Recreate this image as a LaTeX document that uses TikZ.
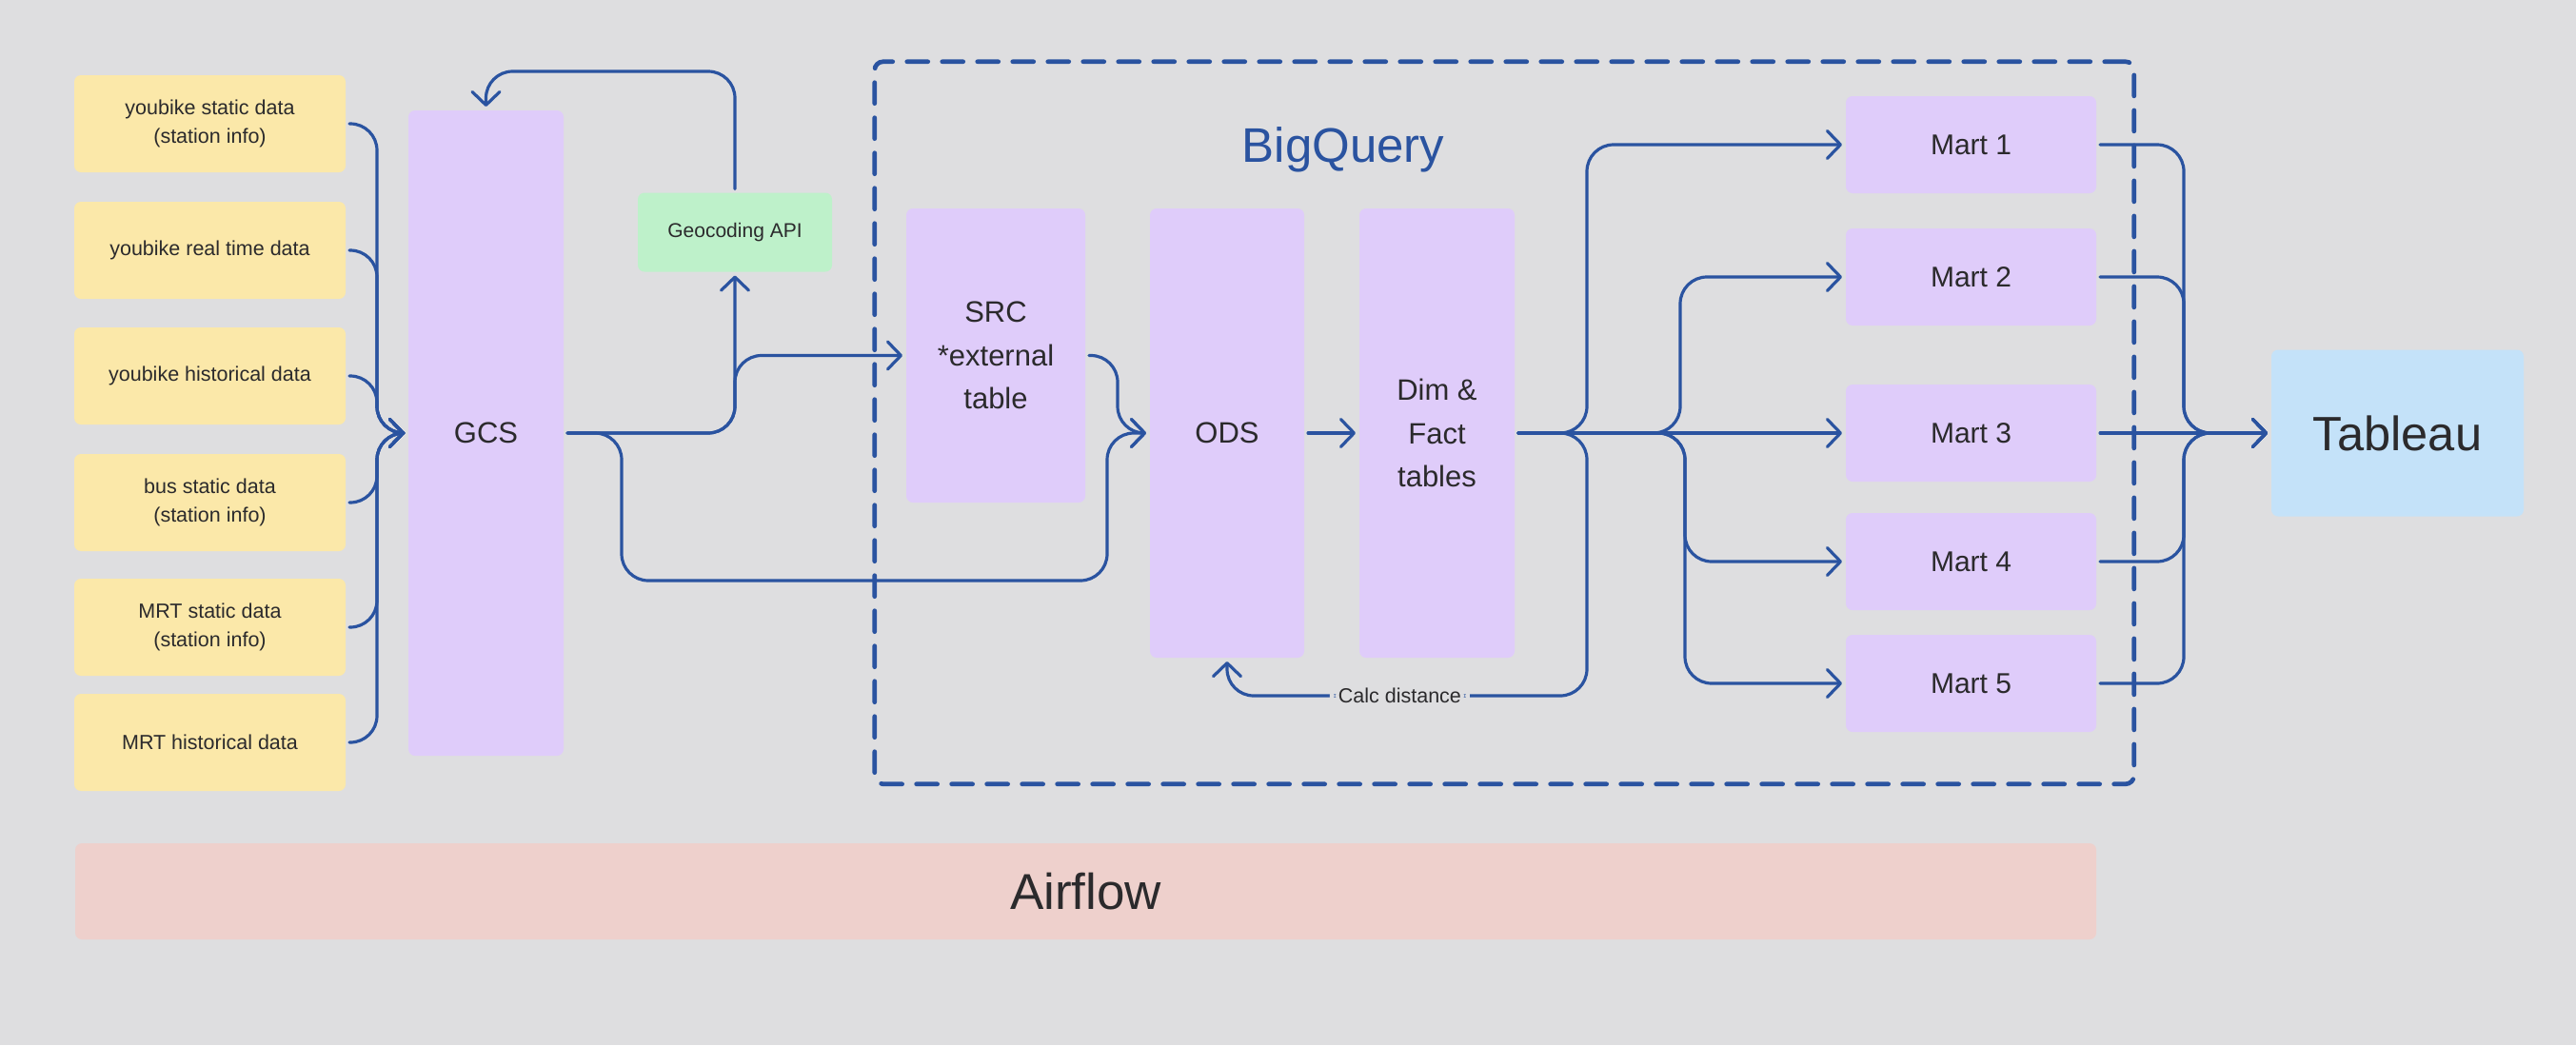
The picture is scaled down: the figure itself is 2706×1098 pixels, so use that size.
\documentclass[tikz,border=0pt]{standalone}
\usepackage{fontspec}
\setmainfont{Liberation Sans}
\usetikzlibrary{arrows.meta}
\definecolor{bg}{HTML}{DEDEE0}
\definecolor{srcfill}{HTML}{FBE8A9}
\definecolor{stagefill}{HTML}{DFCCFA}
\definecolor{apigreen}{HTML}{BEF1CA}
\definecolor{tabblue}{HTML}{C4E2F9}
\definecolor{airpink}{HTML}{EED0CC}
\definecolor{flowblue}{HTML}{2A53A0}
\definecolor{ink}{HTML}{2B2A2C}
\begin{document}
\begin{tikzpicture}[x=1pt,y=-1pt,
    every node/.style={text=ink, inner sep=0pt, outer sep=4pt},
    source/.style={fill=srcfill, rounded corners=7pt, minimum width=285pt, minimum height=102pt,
      align=center, font=\fontsize{21.5}{30.7}\selectfont},
    stage/.style={fill=stagefill, rounded corners=7pt, minimum width=163pt, align=center,
      font=\fontsize{31}{45.5}\selectfont},
    mart/.style={stage, minimum width=263pt, minimum height=102pt, font=\fontsize{30}{36}\selectfont},
    api/.style={fill=apigreen, rounded corners=7pt, minimum width=204pt, minimum height=83pt,
      font=\fontsize{21}{25}\selectfont},
    tool/.style={fill=tabblue, rounded corners=7pt, minimum width=265pt, minimum height=175pt,
      font=\fontsize{50.6}{60}\selectfont},
    sched/.style={fill=airpink, rounded corners=7pt, minimum width=2123pt, minimum height=101pt,
      font=\fontsize{53}{60}\selectfont},
    frame/.style={draw=flowblue, line width=4.7pt, dash pattern=on 22pt off 15pt, line cap=round,
      rounded corners=9pt, minimum width=1323pt, minimum height=759pt},
    title/.style={text=flowblue, font=\fontsize{51}{60}\selectfont},
    calc/.style={fill=bg, inner xsep=9pt, inner ysep=4pt, font=\fontsize{21.5}{25}\selectfont},
    flow/.style={draw=flowblue, line width=3.2pt, rounded corners=28pt, line cap=round, line join=round,
      -{Straight Barb[length=14pt,width=29pt,round]}}]
  \fill[bg] (0,0) rectangle (2706,1098);
  \node[frame] (bq) at (1580.25,444.25) {};
  \node[title] (bqt) at (1411,157) {BigQuery};
  \node[source] (ybs) at (220.5,130) {youbike static data\\(station info)};
  \node[source] (ybr) at (220.5,263) {youbike real time data};
  \node[source] (ybh) at (220.5,395) {youbike historical data};
  \node[source] (bus) at (220.5,528) {bus static data\\(station info)};
  \node[source] (mrts) at (220.5,659) {MRT static data\\(station info)};
  \node[source] (mrth) at (220.5,780) {MRT historical data};
  \node[stage, minimum height=678pt] (gcs) at (510.5,455) {GCS};
  \node[api] (geo) at (772,244) {Geocoding API};
  \node[stage, minimum width=188pt, minimum height=309pt] (src) at (1046,373.5) {SRC\\*external\\table};
  \node[stage, minimum width=162pt, minimum height=472pt] (ods) at (1289,455) {ODS};
  \node[stage, minimum height=472pt] (dim) at (1509.5,455) {Dim \&\\Fact\\tables};
  \node[mart] (m1) at (2070.5,152) {Mart 1};
  \node[mart] (m2) at (2070.5,291) {Mart 2};
  \node[mart] (m3) at (2070.5,455) {Mart 3};
  \node[mart] (m4) at (2070.5,590) {Mart 4};
  \node[mart] (m5) at (2070.5,718) {Mart 5};
  \node[tool] (tab) at (2518.5,455) {Tableau};
  \node[sched] (air) at (1140.5,936.5) {Airflow};
  \coordinate (inJ) at (396,455);
  \coordinate (loopJ) at (772,75);
  \coordinate (apiJ) at (772,373.5);
  \coordinate (lowK) at (653,610);
  \coordinate (lowJ) at (1163,455);
  \coordinate (srcJ) at (1174,455);
  \coordinate (fanA) at (1667,455);
  \coordinate (fanB) at (1765,455);
  \coordinate (fanC) at (1770,455);
  \coordinate (calcJ) at (1289,731);
  \coordinate (merge) at (2294,455);
  \begin{scope}[flow]
    \draw (ybs.east) -| (inJ) -- (gcs.west);
    \draw (ybr.east) -| (inJ) -- (gcs.west);
    \draw (ybh.east) -| (inJ) -- (gcs.west);
    \draw (bus.east) -| (inJ) -- (gcs.west);
    \draw (mrts.east) -| (inJ) -- (gcs.west);
    \draw (mrth.east) -| (inJ) -- (gcs.west);
    \draw (gcs.east) -| (geo.south);
    \draw (geo.north) -- (loopJ) -| (gcs.north);
    \draw (gcs.east) -| (apiJ) -- (src.west);
    \draw (gcs.east) -| (lowK) -| (lowJ) -- (ods.west);
    \draw (src.east) -| (srcJ) -- (ods.west);
    \draw (ods.east) -- (dim.west);
    \draw (dim.east) -- (fanA) |- (m1.west);
    \draw (dim.east) -- (fanB) |- (m2.west);
    \draw (dim.east) -- (m3.west);
    \draw (dim.east) -- (fanC) |- (m4.west);
    \draw (dim.east) -- (fanC) |- (m5.west);
    \draw (dim.east) -- (fanA) |- node[calc, pos=0.76] {Calc distance} (calcJ) -- (ods.south);
    \draw (m1.east) -| (merge) -- (tab.west);
    \draw (m2.east) -| (merge) -- (tab.west);
    \draw (m3.east) -- (tab.west);
    \draw (m4.east) -| (merge) -- (tab.west);
    \draw (m5.east) -| (merge) -- (tab.west);
  \end{scope}
\end{tikzpicture}
\end{document}
